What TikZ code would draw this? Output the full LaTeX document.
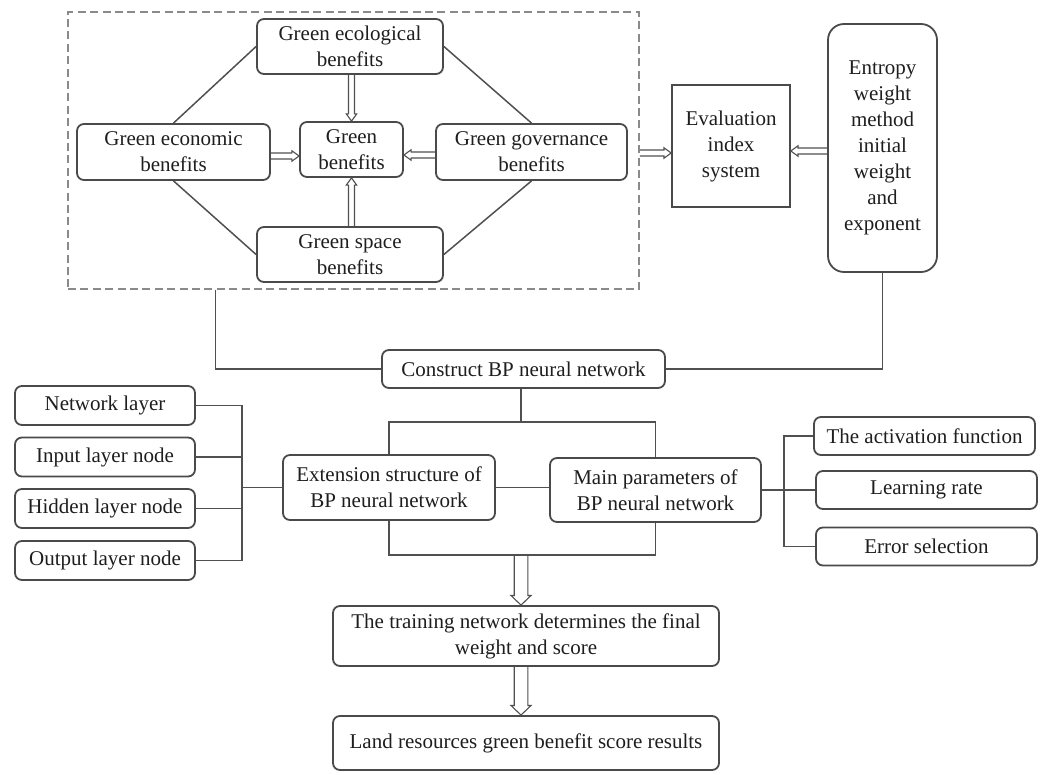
\documentclass[tikz,border=0pt]{standalone}
\usepackage{fontspec}
\setmainfont{Liberation Serif}
\usetikzlibrary{arrows.meta,calc}
\definecolor{bordc}{HTML}{4A4A4A}
\definecolor{linec}{HTML}{505050}
\definecolor{dashc}{HTML}{8A8A8A}
\definecolor{txtc}{HTML}{1E1E1E}
% hollow double arrow: #1 start, #2 end (named coordinates), #3 half shaft, #4 half head, #5 head length
\newcommand\hollowarr[5]{%
  \path ($(#2)!#5!(#1)$) coordinate (hab);
  \draw[harr] ($(#1)!#3!90:(#2)$) -- ($(hab)!#3!90:(#2)$) -- ($(hab)!#4!90:(#2)$) -- (#2)
     -- ($(hab)!#4!-90:(#2)$) -- ($(hab)!#3!-90:(#2)$) -- ($(#1)!#3!-90:(#2)$);
}
\begin{document}
\begin{tikzpicture}[x=0.5pt,y=-0.5pt,
  every node/.style={font=\fontsize{10.5}{13}\selectfont, text=txtc},
  rbox/.style={draw=bordc, line width=0.9pt, rounded corners=3.5pt, align=center, inner sep=0pt},
  sbox/.style={draw=bordc, line width=0.8pt, align=center, inner sep=0pt},
  conn/.style={draw=linec, line width=0.75pt},
  harr/.style={draw=linec, line width=0.55pt, line join=miter},
  dbox/.style={draw=dashc, line width=0.8pt, dash pattern=on 4pt off 2.2pt, inner sep=0pt}
]
\useasboundingbox (0,0) rectangle (1046,775);

% dashed group
\node[dbox, minimum width=285.5pt, minimum height=138.5pt] (dash) at (353.5,150.5) {};

\node[rbox, minimum width=93pt, minimum height=27.5pt] (eco) at (350,46.5) {Green ecological\\benefits};
\node[rbox, minimum width=96.5pt, minimum height=28pt] (econ) at (173.5,152) {Green economic\\benefits};
\node[rbox, minimum width=51.5pt, minimum height=27.5pt] (gb) at (351.5,149.5) {Green\\benefits};
\node[rbox, minimum width=95.5pt, minimum height=28pt] (gov) at (531.5,152) {Green governance\\benefits};
\node[rbox, minimum width=93pt, minimum height=27.5pt] (space) at (350,254.5) {Green space\\benefits};

\node[sbox, minimum width=59pt, minimum height=61pt] (eval) at (731,146) {Evaluation\\index\\system};
\node[rbox, rounded corners=8pt, minimum width=54.5pt, minimum height=124pt] (ent) at (882.5,148) {Entropy\\weight\\method\\initial\\weight\\and\\exponent};

\node[rbox, minimum width=141.5pt, minimum height=19pt] (con) at (523.5,369) {Construct BP neural network};
\node[rbox, minimum width=106pt, minimum height=32.5pt] (ext) at (389,487.5) {Extension structure of\\BP neural network};
\node[rbox, minimum width=105.5pt, minimum height=32pt] (main) at (655.5,490) {Main parameters of\\BP neural network};

\node[rbox, minimum width=90pt, minimum height=19.5pt] (net) at (105,405.5) {Network layer};
\node[rbox, minimum width=90pt, minimum height=19.5pt] (inp) at (105,457) {Input layer node};
\node[rbox, minimum width=90pt, minimum height=19.5pt] (hid) at (105,508.5) {Hidden layer node};
\node[rbox, minimum width=90pt, minimum height=19.5pt] (outn) at (105,560.5) {Output layer node};

\node[rbox, minimum width=110.5pt, minimum height=19pt] (act) at (924.5,436) {The activation function};
\node[rbox, minimum width=110.5pt, minimum height=19pt] (lrn) at (926.5,490) {Learning rate};
\node[rbox, minimum width=110.5pt, minimum height=19pt] (err) at (926.5,546.5) {Error selection};

\node[rbox, minimum width=193pt, minimum height=30pt] (train) at (526,636) {The training network determines the final\\weight and score};
\node[rbox, minimum width=193pt, minimum height=27pt] (land) at (526,743) {Land resources green benefit score results};

% diagonals
\draw[conn] (econ.north) -- (eco.west);
\draw[conn] (eco.east) -- (gov.north);
\draw[conn] (econ.south) -- (space.west);
\draw[conn] (space.east) -- (gov.south);

% anchor points for the hollow double arrows
\coordinate (a1s) at (gb.north |- eco.south);  \coordinate (a1e) at (gb.north);
\coordinate (a2s) at (gb.south |- space.north);\coordinate (a2e) at (gb.south);
\coordinate (a3s) at (econ.east |- 0,156);     \coordinate (a3e) at (gb.west |- 0,156);
\coordinate (a4s) at (gov.west |- 0,155);      \coordinate (a4e) at (gb.east |- 0,155);
\coordinate (a5s) at (dash.east |- 0,153);     \coordinate (a5e) at (eval.west |- 0,153);
\coordinate (a6s) at (ent.west |- 0,151);      \coordinate (a6e) at (eval.east |- 0,151);

\hollowarr{a1s}{a1e}{1.5pt}{2.6pt}{3.6pt}
\hollowarr{a2s}{a2e}{1.5pt}{2.6pt}{3.6pt}
\hollowarr{a3s}{a3e}{1.5pt}{2.6pt}{3.6pt}
\hollowarr{a4s}{a4e}{1.5pt}{2.6pt}{3.6pt}
\hollowarr{a5s}{a5e}{1.5pt}{2.6pt}{3.6pt}
\hollowarr{a6s}{a6e}{1.5pt}{2.6pt}{3.6pt}

% to construct
\coordinate (dsb) at ($(dash.south west)!0.259!(dash.south east)$);
\draw[conn] (dsb) |- (con.west);
\draw[conn] (ent.south) |- (con.east);

% split
\coordinate (top) at (521,422);
\draw[conn] (con.south -| top) -- (top);
\draw[conn] (ext.north) -- (ext.north |- top) -- (main.north |- top) -- (main.north);
\draw[conn] (ext.east) -- (main.west |- ext.east);

% bottom join
\coordinate (bot) at (521,555);
\draw[conn] (ext.south) -- (ext.south |- bot) -- (main.south |- bot) -- (main.south);
\coordinate (b1e) at (train.north -| bot);
\coordinate (b2s) at (train.south -| bot);
\coordinate (b2e) at (land.north -| bot);
\hollowarr{bot}{b1e}{3.4pt}{5pt}{4.8pt}
\hollowarr{b2s}{b2e}{3.4pt}{5pt}{4.8pt}

% left bus
\coordinate (lb) at (242,487.5);
\draw[conn] (net.east) -- (net.east -| lb) -- (outn.east -| lb) -- (outn.east);
\draw[conn] (inp.east) -- (inp.east -| lb);
\draw[conn] (hid.east) -- (hid.east -| lb);
\draw[conn] (lb) -- (ext.west);

% right bus
\coordinate (rb) at (784,490);
\draw[conn] (act.west) -- (act.west -| rb) -- (err.west -| rb) -- (err.west);
\draw[conn] (main.east) -- (lrn.west);
\end{tikzpicture}
\end{document}
